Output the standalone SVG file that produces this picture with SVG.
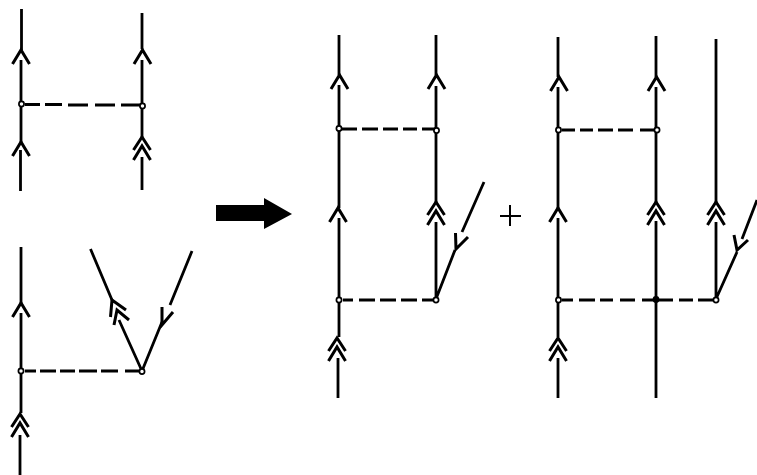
<svg xmlns="http://www.w3.org/2000/svg" xmlns:xlink="http://www.w3.org/1999/xlink" width="757" height="475" viewBox="0 0 757 475">
<style>
.l{fill:none;stroke:#000;stroke-width:2.8;stroke-linecap:butt;stroke-linejoin:miter}
.h{stroke-width:3}
.d{fill:none;stroke:#000;stroke-width:3}
.n{fill:#fff;stroke:#000;stroke-width:1.7}
</style>
<defs>
<path id="c" class="l h" d="M-8.500 14L0 0L8.500 14"/>
<path id="cc" class="l h" d="M-8.500 13L0 0L8.500 13M-8.500 23L0 9L8.500 23"/>
</defs>
<rect width="757" height="475" fill="#fff"/>
<g id="connectors">
<path class="l" d="M21.500 9V50M21 60V142M20.500 150V191M142 13V49M142 60V137M142 157V190"/>
<path class="d" d="M25 104.500H40M45 104.500H62M68 105H88M95 105H115M121 105H142"/>
<use xlink:href="#c" x="21" y="50"/><use xlink:href="#c" x="21" y="142"/><use xlink:href="#c" x="142.500" y="50"/><use xlink:href="#cc" x="142" y="137"/>
<path class="l" d="M21 247V303M21 313V413M20 435V475M90.500 249L112 300M119 320L142 371M192 251L170 305M162 322L142 371"/>
<path class="d" d="M25 371H36M40 371H56M60 371H75M79 371H97M101 371H118M125 371H142"/>
<use xlink:href="#c" x="21" y="303"/><use xlink:href="#cc" x="20" y="414"/>
<path class="l h" d="M110.500 317L112 300L126 310M114 325L117 310L129 320M162 307L162 325L173 312"/>
<path class="l" d="M339 35V75M339 85V208M339 218V337M338 358V398M436 35V75M436 86V202M436 222V299M436 299L455 250M462 232L484 182"/>
<path class="d" d="M340 129H357M362 129H378M383 129H398M403 129H417M422 129H436M343 300H353M359 300H375M380 300H396M401 300H417M422 300H436"/>
<use xlink:href="#c" x="339.500" y="75"/><use xlink:href="#c" x="436.500" y="75"/><use xlink:href="#c" x="338" y="208"/><use xlink:href="#cc" x="436" y="202"/><use xlink:href="#cc" x="337" y="338"/>
<path class="l h" d="M455.500 233L456 249L468 237"/>
<path class="l" d="M558 37V77M558 87V208M558 218V337M558 358V398M656 36V77M656 87V202M656 221V398M716 39V202M716 222V299M716 299L737 252M742 239L757 200"/>
<path class="d" d="M562 130H575M580 130H593M598 130H613M618 130H633M640 130H656M562 300H573M579 300H595M600 300H613M620 300H635M642 300H673M679 300H693M698 300H715"/>
<use xlink:href="#c" x="559" y="77"/><use xlink:href="#c" x="656.500" y="77"/><use xlink:href="#c" x="558" y="208"/><use xlink:href="#cc" x="656" y="202"/><use xlink:href="#cc" x="716" y="202"/><use xlink:href="#cc" x="558" y="338"/>
<path class="l h" d="M734 235L737 250L748 240"/>
</g>
<g id="v-a1"><circle class="n" cx="21.500" cy="104" r="2.600"/></g>
<g id="v-a2"><circle class="n" cx="142.500" cy="106" r="2.600"/></g>
<g id="v-b1"><circle class="n" cx="21" cy="371" r="2.600"/></g>
<g id="v-b2"><circle class="n" cx="142" cy="371.500" r="2.600"/></g>
<g id="v-c1"><circle class="n" cx="339" cy="128.500" r="2.600"/></g>
<g id="v-c2"><circle class="n" cx="436.500" cy="130.500" r="2.600"/></g>
<g id="v-c3"><circle class="n" cx="339" cy="300" r="2.600"/></g>
<g id="v-c4"><circle class="n" cx="436" cy="300" r="2.600"/></g>
<g id="v-d1"><circle class="n" cx="558.500" cy="130" r="2.600"/></g>
<g id="v-d2"><circle class="n" cx="657" cy="130" r="2.600"/></g>
<g id="v-d3"><circle class="n" cx="558.500" cy="300" r="2.600"/></g>
<g id="v-d4"><circle cx="656" cy="299.500" r="3.400" fill="#000"/></g>
<g id="v-d5"><circle class="n" cx="716" cy="300" r="2.600"/></g>
<g id="big-arrow"><path d="M216 205H264V198L292 214L264 229V221H216Z" fill="#000"/></g>
<g id="plus"><path d="M500 216H521M510 205V226" fill="none" stroke="#000" stroke-width="2"/></g>
</svg>
